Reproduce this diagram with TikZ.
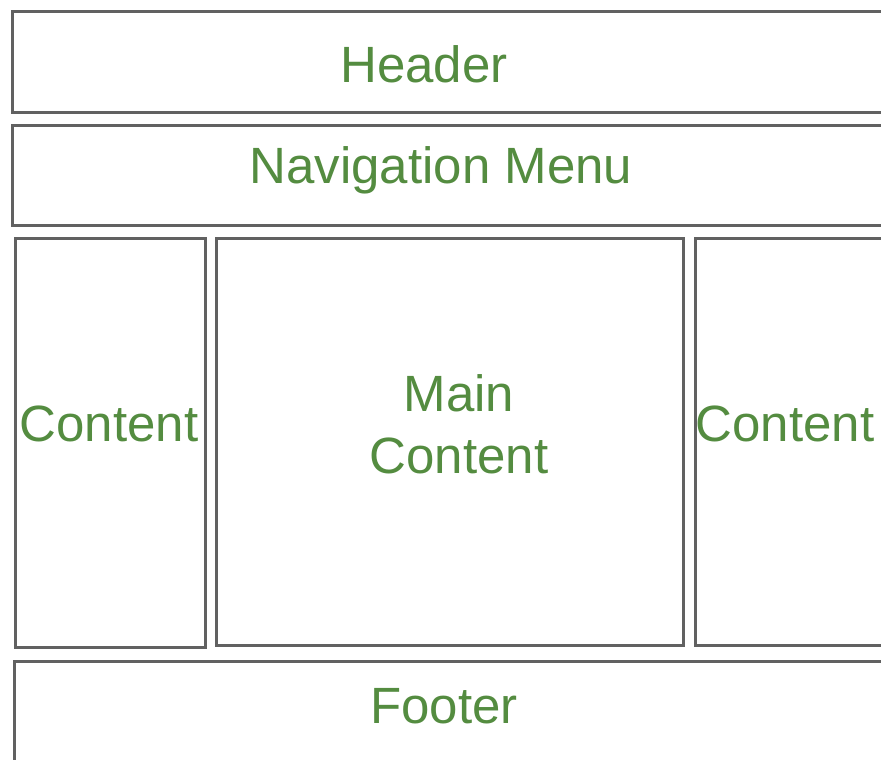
\documentclass[tikz,border=0pt]{standalone}
\usepackage{fontspec}
\setmainfont{Liberation Sans}
\usetikzlibrary{positioning}
\definecolor{labelgreen}{RGB}{84,140,64}
\colorlet{boxgray}{black!62}
\tikzset{box/.style={draw=boxgray,line width=3pt}}
\tikzstyle{lbl}=[labelgreen,font=\fontsize{51}{62}\selectfont,align=center,inner sep=0pt]

\begin{document}
\begin{tikzpicture}[x=1pt,y=-1pt]

    \useasboundingbox (0,0) rectangle (881,760);
    \clip (0,0) rectangle (881,760);
    \fill[white] (0,0) rectangle (881,760);

    % Header
    \draw[box] (12,12) rectangle (900,112);
    \node[lbl] (header) at (424,64) {Header};

    % Navigation
    \draw[box] (12,125) rectangle (900,225);
    \node[lbl] (nav) at (441,170) {Navigation Menu};

    % left column
    \draw[box] (15,238) rectangle (205,647);
    \node[lbl] (left) at (109,424) {Content};

    % main column
    \draw[box] (216,238) rectangle (683,645);
    \node[lbl] (main) at (459,424) {Main\\Content};

    % right column
    \draw[box] (695,238) rectangle (900,645);
    \node[lbl] (right) at (785,424) {Content};

    % Footer
    \draw[box] (14,661) rectangle (900,790);
    \node[lbl] (footer) at (444,706) {Footer};

\end{tikzpicture}
\end{document}
